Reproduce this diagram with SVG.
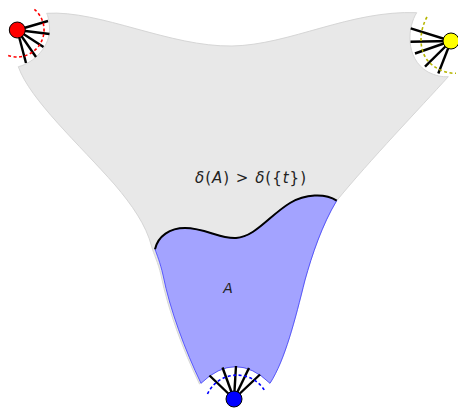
<svg xmlns="http://www.w3.org/2000/svg" width="458" height="408" viewBox="0 0 458 408">
<style>
.region{fill:#e8e8e8;stroke:#d6d6d6;stroke-width:1}
.setA{fill:#a3a3ff;stroke:#3c3cff;stroke-width:0.8}
.cut{fill:none;stroke:#000;stroke-width:2}
.spoke{stroke:#000;stroke-width:2.4;stroke-linecap:butt}
.node{stroke:#000;stroke-width:1}
.dash{fill:none;stroke-width:1.6;stroke-dasharray:3,2.5}
.lbl{font-family:"DejaVu Sans",sans-serif;fill:#222}
</style>
<g id="regions">
<path class="region" d="M46.7,13.3 C100,10 170,47 232,46 C290,45 350,10 416.7,12.7 C408,26 404,58 428,72 C436,76 442,77 448.3,76.7 C420,108 370,160 336.7,200.7 C322,225 312,255 305,280 C295,320 285,360 270,383.3 Q235.5,350 199.5,384 C183,350 168,310 161,275 C158,262 154,255 151.5,246 C146,225 132,205 115,185 C80,145 30,100 18.3,66.7 C34,63 51,46 49.5,27 C49,20 48,16 46.7,13.3 Z"/>
<path class="setA" d="M155,249.3 C158,236 170,228 185,228 C205,228 220,239 236,238 C255,237 270,215 290,203 C305,194 325,193 336.7,200.7 C322,225 312,255 305,280 C295,320 285,360 270,383.3 Q235.5,350 201,383.3 C185,350 170,310 163,275 C160,262 157,255 155,249.3 Z"/>
<path class="cut" d="M155,249.3 C158,236 170,228 185,228 C205,228 220,239 236,238 C255,237 270,215 290,203 C305,194 325,193 336.7,200.7"/>
<text class="lbl" x="195" y="183" font-size="15" textLength="111" lengthAdjust="spacing"><tspan font-style="italic">δ</tspan>(<tspan font-style="italic">A</tspan>) &gt; <tspan font-style="italic">δ</tspan>({<tspan font-style="italic">t</tspan>})</text>
<text class="lbl" x="228" y="293" font-size="14" font-style="italic" text-anchor="middle">A</text>
</g>
<g id="connectors">
<g id="spokes-red">
<line class="spoke" x1="17.3" y1="30" x2="48" y2="21"/>
<line class="spoke" x1="17.3" y1="30" x2="49.5" y2="34"/>
<line class="spoke" x1="17.3" y1="30" x2="43.5" y2="47"/>
<line class="spoke" x1="17.3" y1="30" x2="36" y2="57"/>
<line class="spoke" x1="17.3" y1="30" x2="26" y2="63"/>
</g>
<g id="spokes-yellow">
<line class="spoke" x1="451" y1="41" x2="410.7" y2="28.3"/>
<line class="spoke" x1="451" y1="41" x2="410.5" y2="41.7"/>
<line class="spoke" x1="451" y1="41" x2="415" y2="53.5"/>
<line class="spoke" x1="451" y1="41" x2="425" y2="66.7"/>
<line class="spoke" x1="451" y1="41" x2="438.3" y2="73.5"/>
</g>
<g id="spokes-blue">
<line class="spoke" x1="234" y1="399" x2="209.5" y2="375.5"/>
<line class="spoke" x1="234" y1="399" x2="222.5" y2="367.5"/>
<line class="spoke" x1="234" y1="399" x2="236" y2="366"/>
<line class="spoke" x1="234" y1="399" x2="249" y2="368"/>
<line class="spoke" x1="234" y1="399" x2="260" y2="374.5"/>
</g>
</g>
<g id="node-red">
<path class="dash" stroke="#ff0000" d="M34.4,9.3 A27,27 0 0 1 6.9,55"/>
<circle class="node" cx="17.3" cy="30" r="8" fill="#ff0000"/>
</g>
<g id="node-yellow">
<path class="dash" stroke="#b5b500" d="M427,17 C418,33 419,54 431,64 C438,70 447,73.5 456,73.3"/>
<circle class="node" cx="451" cy="41" r="8" fill="#ffff00"/>
</g>
<g id="node-blue">
<path class="dash" stroke="#0000ff" d="M207.5,394 A32.5,32.5 0 0 1 265.5,392"/>
<circle class="node" cx="234" cy="399" r="8" fill="#0000ff"/>
</g>
</svg>
